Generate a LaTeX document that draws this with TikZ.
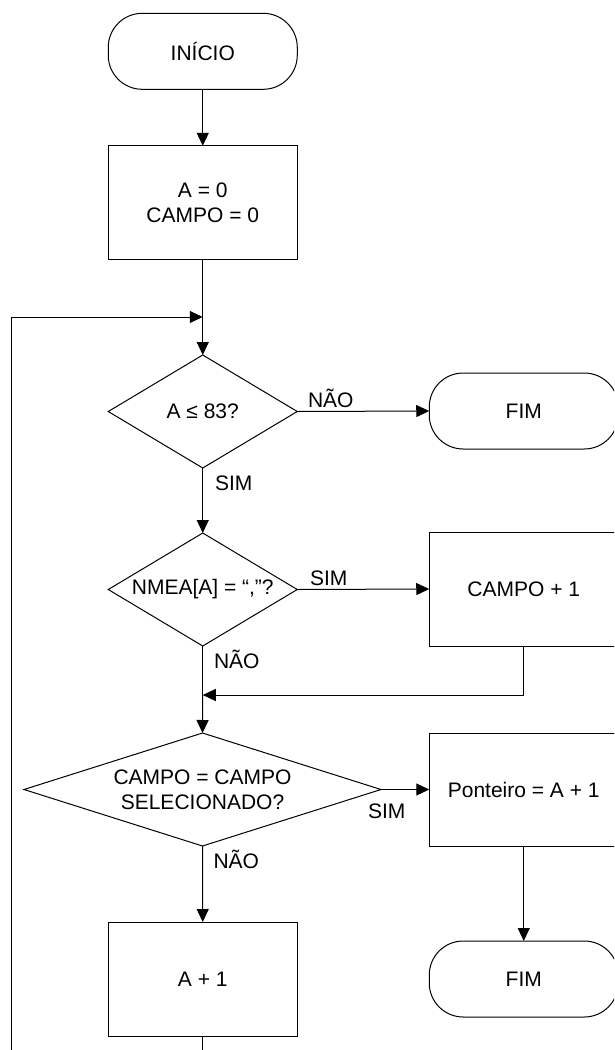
\documentclass[tikz,border=0pt]{standalone}
\usepackage{fontspec}
\setmainfont{Liberation Sans}
\usetikzlibrary{shapes.geometric,arrows.meta}
\begin{document}
\begin{tikzpicture}[x=1pt,y=-1pt,
  every node/.style={font=\fontsize{21pt}{25pt}\selectfont, outer sep=0pt},
  line/.style={draw=black, line width=1pt},
  arr/.style={line, -{Triangle[length=13pt,width=12pt]}},
  term/.style={line, rectangle, rounded corners=34pt, minimum width=189pt, minimum height=76pt, inner sep=0pt},
  proc/.style={line, rectangle, minimum width=189pt, minimum height=114pt, inner sep=0pt, align=center},
  dec/.style={line, diamond, inner sep=0pt, align=center},
  lbl/.style={inner sep=0pt, anchor=base west}]
\useasboundingbox (0,0) rectangle (614,1050);
\clip (0,0) rectangle (614,1050);
% nodes
\node[term] (ini) at (202.75,51.3) {INÍCIO};
\node[proc] (init) at (202.75,202.8) {A = 0\\CAMPO = 0};
\coordinate (join) at (202.75,317);
\coordinate (loopL) at (11.7,317);
\coordinate (loopB) at (11.7,1051);
\node[dec, minimum width=189pt, minimum height=113pt, shape aspect=1.67] (d1) at (202.75,411.5) {A ≤ 83?};
\node[term] (fim1) at (523.75,411) {FIM};
\node[dec, minimum width=189pt, minimum height=113pt, shape aspect=1.67] (d2) at (202.75,589.5) {NMEA[A] = “,”?};
\node[proc] (campo) at (523.75,589) {CAMPO + 1};
\coordinate (merge) at (202.75,695);
\node[dec, minimum width=357pt, minimum height=113pt, shape aspect=3.16] (d3) at (202.5,789.5) {CAMPO = CAMPO\\SELECIONADO?};
\node[proc, minimum height=113pt] (pont) at (523.75,789.5) {Ponteiro = A + 1};
\node[term] (fim2) at (523.75,979) {FIM};
\node[proc] (inc) at (202.75,979) {A + 1};
\coordinate (incB) at (202.75,1051);
% connectors
\draw[arr] (ini) -- (init);
\draw[line] (init.south) -- (join);
\draw[arr] (join) -- (d1.north);
\draw[arr] (loopB) -- (loopL) -- (join);
\draw[arr] (d1.east) -- (fim1.west);
\draw[arr] (d1.south) -- (d2.north);
\draw[arr] (d2.east) -- (campo.west);
\draw[line] (d2.south) -- (merge);
\draw[arr] (campo.south) |- (merge);
\draw[arr] (merge) -- (d3.north);
\draw[arr] (d3.east) -- (pont.west);
\draw[arr] (d3.south) -- (inc.north);
\draw[arr] (pont.south) -- (fim2.north);
\draw[line] (inc.south) -- (incB);
% labels
\node[lbl] (l1) at (308,407) {NÃO};
\node[lbl] (l2) at (215,490) {SIM};
\node[lbl] (l3) at (310,585) {SIM};
\node[lbl] (l4) at (214,668) {NÃO};
\node[lbl] (l5) at (368,818) {SIM};
\node[lbl] (l6) at (213.5,868) {NÃO};
\end{tikzpicture}
\end{document}
